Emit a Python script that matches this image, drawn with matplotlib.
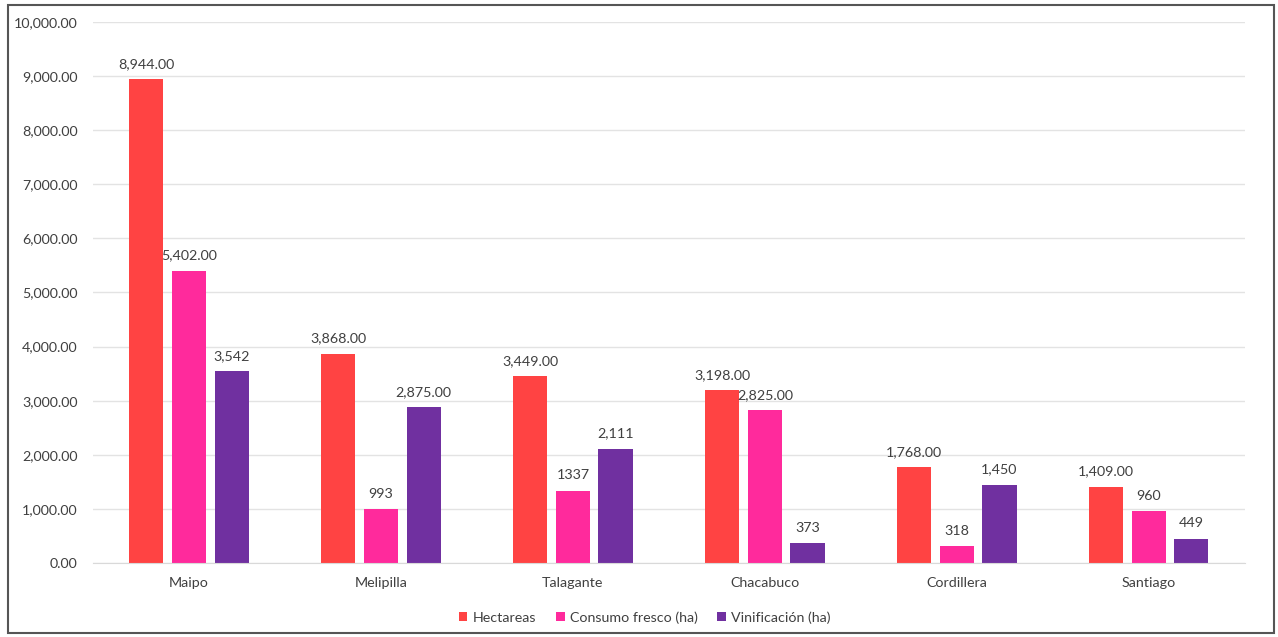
import matplotlib.pyplot as plt
import numpy as np
from matplotlib.patches import Rectangle

plt.rcParams['font.family'] = ['Lato', 'DejaVu Sans']

provincias = ['Maipo', 'Melipilla', 'Talagante', 'Chacabuco', 'Cordillera', 'Santiago']
hectareas = [8944, 3868, 3449, 3198, 1768, 1409]
consumo = [5402, 993, 1337, 2825, 318, 960]
vinificacion = [3542, 2875, 2111, 373, 1450, 449]

hect_labels = ['8,944.00', '3,868.00', '3,449.00', '3,198.00', '1,768.00', '1,409.00']
cons_labels = ['5,402.00', '993', '1337', '2,825.00', '318', '960']
vini_labels = ['3,542', '2,875.00', '2,111', '373', '1,450', '449']

series = [
    ('Hectareas', hectareas, hect_labels, '#FF4343'),
    ('Consumo fresco (ha)', consumo, cons_labels, '#FF2A9C'),
    ('Vinificación (ha)', vinificacion, vini_labels, '#7030A0'),
]

fs = 10.3

fig = plt.figure(figsize=(12.78, 6.37), dpi=100)
ax = fig.add_axes([0.0728, 0.1162, 0.9012, 0.8493])

x = np.arange(len(provincias))
w = 0.178
step = 0.222
for i, (name, vals, labs, col) in enumerate(series):
    pos = x + (i - 1) * step
    bars = ax.bar(pos, vals, w, color=col, label=name, zorder=2)
    for b, lab in zip(bars, labs):
        ax.text(b.get_x() + b.get_width() / 2, b.get_height() + 170, lab,
                ha='center', va='bottom', fontsize=fs, color='#404040')

ax.set_xlim(-0.5, len(provincias) - 0.5)
ax.set_ylim(0, 10000)
ax.set_yticks(np.arange(0, 10001, 1000))
ax.set_yticklabels([f'{v:,.2f}' for v in range(0, 10001, 1000)])
ax.set_xticks(x)
ax.set_xticklabels(provincias)
ax.tick_params(axis='both', length=0, labelsize=fs, labelcolor='#404040')
ax.tick_params(axis='y', pad=11)
ax.tick_params(axis='x', pad=10)
ax.grid(axis='y', color='#E3E3E3', linewidth=1, zorder=0)
for s in ['top', 'right', 'left']:
    ax.spines[s].set_visible(False)
ax.spines['bottom'].set_color('#D9D9D9')

ax.legend(loc='upper center', bbox_to_anchor=(0.479, -0.065), ncol=3, frameon=False,
          fontsize=fs, handlelength=0.6, handleheight=0.6, columnspacing=1.4,
          handletextpad=0.35, labelcolor='#404040')

fig.patches.append(Rectangle((8 / 1278, 4 / 637), 1266 / 1278, 628 / 637,
                             transform=fig.transFigure, fill=False,
                             edgecolor='#555555', linewidth=1.5))

fig.savefig('out.png', dpi=100)
